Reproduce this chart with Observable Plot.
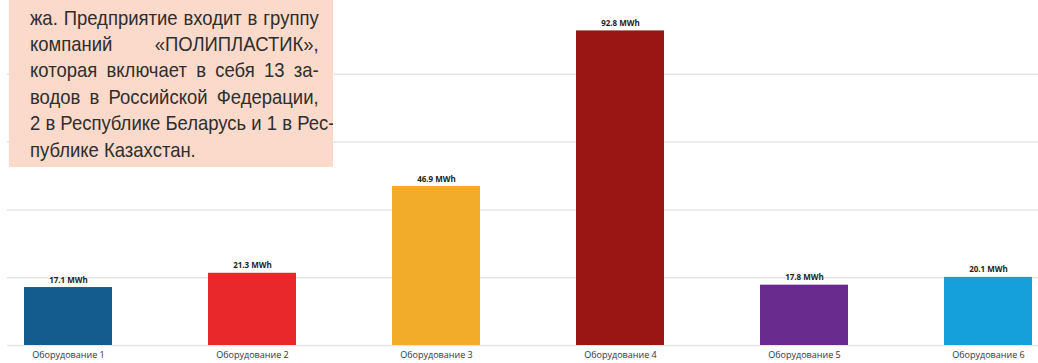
<!DOCTYPE html>
<html>
<head>
<meta charset="utf-8">
<script src="https://cdn.jsdelivr.net/npm/d3@7"></script>
<script src="https://cdn.jsdelivr.net/npm/@observablehq/plot@0.6"></script>
<style>
  html, body { margin: 0; padding: 0; background: #fff; }
  #wrap { position: relative; width: 1038px; height: 363px; overflow: hidden; }
  #chart svg { display: block; }
  #note {
    position: absolute; left: 9px; top: 0; width: 324px; height: 167px;
    background: #fcdacb; overflow: hidden;
  }
  #note .text {
    position: absolute; left: 21px; top: 4.5px; width: 328px;
    transform: scaleX(0.88); transform-origin: 0 0;
    font-family: "Liberation Sans", Arial, sans-serif;
    font-size: 21px; line-height: 26.4px; color: #2e2e2e;
  }
  #note .text div { text-align: justify; text-align-last: justify; white-space: nowrap; }
  #note .text div.last { text-align-last: left; }
</style>
</head>
<body>
<div id="wrap">
  <div id="chart"></div>
  <div id="note">
    <div class="text">
      <div>жа. Предприятие входит в группу</div>
      <div>компаний «ПОЛИПЛАСТИК»,</div>
      <div>которая включает в себя 13 за-</div>
      <div>водов в Российской Федерации,</div>
      <div>2 в Республике Беларусь и 1 в Рес-</div>
      <div class="last">публике Казахстан.</div>
    </div>
  </div>
</div>
<script>
// Energy consumption per piece of equipment, MWh
const equipment = ["Оборудование 1", "Оборудование 2", "Оборудование 3", "Оборудование 4", "Оборудование 5", "Оборудование 6"];
const consumption = [17.1, 21.3, 46.9, 92.8, 17.8, 20.1];
const barColors = ["#155c8e", "#e8282a", "#f3ab2a", "#9a1614", "#6a2b8e", "#15a0dc"];
const gridTicks = [0, 20, 40, 60, 80];
const unit = "MWh";

const rows = equipment.map((name, i) => ({name, value: consumption[i]}));

const chart = Plot.plot({
  width: 1038,
  height: 363,
  marginTop: 6,
  marginBottom: 18,
  marginLeft: 7,
  marginRight: 0,
  style: {fontFamily: "'Open Sans', sans-serif", background: "transparent"},
  x: {domain: equipment, range: [22, 1035], paddingInner: 0.52, paddingOuter: 0},
  y: {domain: [0, 100]},
  color: {domain: equipment, range: barColors},
  marks: [
    Plot.gridY(gridTicks, {stroke: "#e6e6ea", strokeOpacity: 1, strokeWidth: 1.5}),
    Plot.barY(rows, {x: "name", y: "value", fill: "name"}),
    Plot.text(rows, {
      x: "name", y: "value", text: d => `${d.value} ${unit}`,
      lineAnchor: "bottom", dy: -5, fontSize: 8, fontWeight: "bold", fill: "#222"
    }),
    Plot.axisX({tickSize: 0, tickPadding: 6, fontSize: 9, color: "#333", label: null}),
    Plot.axisY({ticks: [], label: null})
  ]
});
document.getElementById("chart").appendChild(chart);
</script>
</body>
</html>
